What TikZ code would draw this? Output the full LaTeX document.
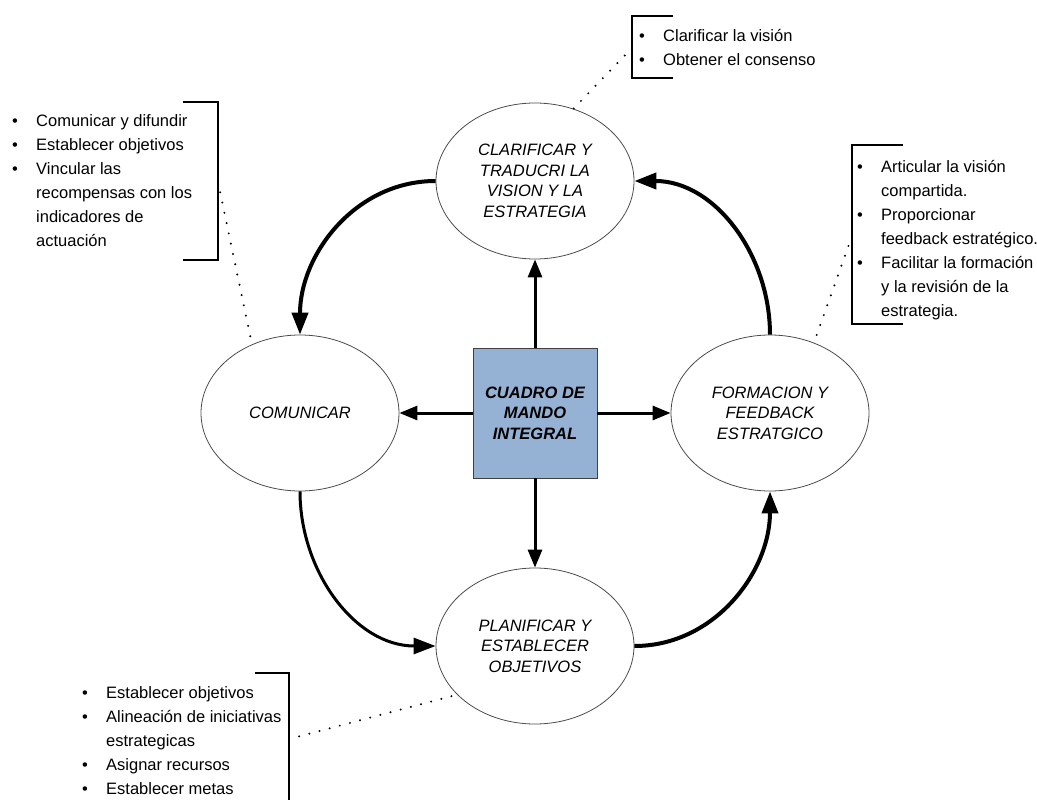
\documentclass[tikz,border=0pt]{standalone}
\usepackage{fontspec}
\setmainfont{Liberation Sans}
\usetikzlibrary{arrows.meta,shapes.geometric,positioning}
\definecolor{cmibox}{RGB}{149,178,212}
\newcommand{\bul}{\makebox[24pt][l]{\textbullet}}
\newcommand{\sig}{\hspace*{24pt}}

\tikzset{
  etapa/.style={ellipse, draw=black!70, line width=0.8pt, minimum width=198pt,
    minimum height=156pt, inner sep=0pt, align=center,
    font=\fontsize{16.5}{20.5}\selectfont\itshape},
  cuadro/.style={rectangle, draw=black!75, line width=0.8pt, fill=cmibox,
    minimum width=124pt, minimum height=130pt, inner sep=0pt, align=center,
    font=\fontsize{16.5}{20.5}\selectfont\bfseries\itshape},
  lista/.style={align=left, inner sep=0pt, anchor=north west,
    font=\fontsize{16.5}{24}\selectfont},
  flecha/.style={-{Triangle[length=18pt,width=14pt]}, line width=3pt},
  ciclo/.style={-{Triangle[length=22pt,width=16pt]}, line width=4pt},
  corchete/.style={line width=2pt},
  guia/.style={line width=2.2pt, line cap=round, dash pattern=on 0pt off 10.5pt}
}

\begin{document}
\begin{tikzpicture}[x=1pt,y=-1pt]
  \useasboundingbox (0,0) rectangle (1037,800);
% the four stages and the central box
  \node[cuadro] (cmi) at (535,413) {CUADRO DE\\MANDO\\INTEGRAL};
  \node[etapa] (clar) at (535,181) {CLARIFICAR Y\\TRADUCRI LA\\VISION Y LA\\ESTRATEGIA};
  \node[etapa] (comu) at (300,413) {COMUNICAR};
  \node[etapa] (form) at (770,413) {FORMACION Y\\FEEDBACK\\ESTRATGICO};
  \node[etapa] (plan) at (535,646) {PLANIFICAR Y\\ESTABLECER\\OBJETIVOS};
% arrows out of the box
  \draw[flecha] (cmi.north) -- (clar.south);
  \draw[flecha] (cmi.south) -- (plan.north);
  \draw[flecha] (cmi.west) -- (comu.east);
  \draw[flecha] (cmi.east) -- (form.west);
% the cycle
  \draw[ciclo] (clar.west) to[out=180,in=90] (comu.north);
  \draw[ciclo,line width=3pt] (comu.south) to[out=-90,in=180] (plan.west);
  \draw[ciclo] (plan.east) to[out=0,in=-90] (form.south);
  \draw[ciclo] (form.north) to[out=90,in=0] (clar.east);
% lists
  \node[lista] (lclar) at (639,29) {\bul Clarificar la visión\\
    \bul Obtener el consenso};
  \node[lista] (lcomu) at (12,114) {\bul Comunicar y difundir\\
    \bul Establecer objetivos\\
    \bul Vincular las\\
    \sig recompensas con los\\
    \sig indicadores de\\
    \sig actuación};
  \node[lista] (lform) at (857,160) {\bul Articular la visión\\
    \sig compartida.\\
    \bul Proporcionar\\
    \sig feedback estratégico.\\
    \bul Facilitar la formación\\
    \sig y la revisión de la\\
    \sig estrategia.};
  \node[lista] (lplan) at (82,686) {\bul Establecer objetivos\\
    \bul Alineación de iniciativas\\
    \sig estrategicas\\
    \bul Asignar recursos\\
    \bul Establecer metas};
% brackets
  \draw[corchete,line width=2.5pt] (673,16) -- (632,16) -- (632,78) -- (673,78);
  \draw[corchete] (183,102) -- (218,102) -- (218,260) -- (183,260);
  \draw[corchete,line width=2.5pt] (903,145) -- (852,145) -- (852,324) -- (903,324);
  \draw[corchete] (255,673) -- (289,673) -- (289,810) -- (255,810);
  \coordinate (bclar) at (632,48);
  \coordinate (bcomu) at (218,182);
  \coordinate (bform) at (852,236);
  \coordinate (bplan) at (289,739);
% dotted leaders
  \draw[guia] (bclar) -- (clar.62);
  \draw[guia] (bcomu) -- (comu.125);
  \draw[guia] (bform) -- (form.58);
  \draw[guia] (bplan) -- (plan.212);
\end{tikzpicture}
\end{document}
